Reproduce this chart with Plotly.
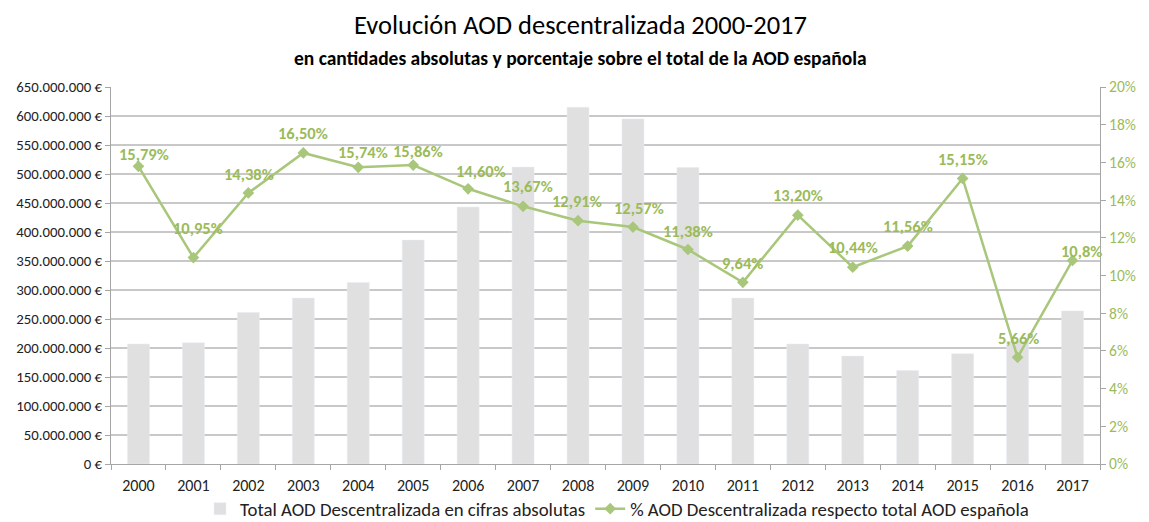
import plotly.graph_objects as go

years = [str(y) for y in range(2000, 2018)]
totals = [207e6, 209e6, 261e6, 286e6, 313e6, 386e6, 443e6, 512e6, 615e6,
          595e6, 511e6, 286e6, 207e6, 186e6, 161e6, 190e6, 212e6, 264e6]
pct = [15.79, 10.95, 14.38, 16.50, 15.74, 15.86, 14.60, 13.67, 12.91,
       12.57, 11.38, 9.64, 13.20, 10.44, 11.56, 15.15, 5.66, 10.8]
pct_labels = ["15,79%", "10,95%", "14,38%", "16,50%", "15,74%", "15,86%", "14,60%",
              "13,67%", "12,91%", "12,57%", "11,38%", "9,64%", "13,20%", "10,44%",
              "11,56%", "15,15%", "5,66%", "10,8%"]
left_ticks = list(range(0, 650_000_001, 50_000_000))
left_ticktext = [f"{v:,}".replace(",", ".") + " €" for v in left_ticks]
right_ticks = list(range(0, 21, 2))
right_ticktext = [f"{v}%" for v in right_ticks]

# label placement offsets (pixels, style only)
label_dx = [6, 5, 1, 0, 5, 5, 13, 5, -1, 6, 0, 0, 0, 0, 0, 0, 1, 9]
label_dy = [12, 30, 19, 20, 15, 14, 18, 20, 20, 19, 18, 19, 20, 20, 20, 19, 19, 9]

FONT = "Carlito, Calibri, 'Noto Sans', sans-serif"
GREEN_LINE = "#A9C77A"
GREEN_TEXT = "#9BBB59"

# page body has an 8px margin: work in screen coords, then offset
OFF = 8
W, H = 1149 - OFF, 522 - OFF
plot_l, plot_r, plot_t, plot_b = 111 - OFF, 1100 - OFF, 87 - OFF, 464 - OFF
plot_h = plot_b - plot_t
plot_w = plot_r - plot_l

fig = go.Figure()
fig.add_trace(go.Bar(
    x=years, y=totals, name="Total AOD Descentralizada en cifras absolutas",
    marker=dict(color="#E0E0E0"), yaxis="y"))
fig.add_trace(go.Scatter(
    x=years, y=pct, name="% AOD Descentralizada respecto total AOD española",
    mode="lines+markers",
    line=dict(color=GREEN_LINE, width=2.5),
    marker=dict(symbol="diamond", size=9, color=GREEN_LINE),
    yaxis="y2", cliponaxis=False))

# data labels anchored to each category (by index) on the percentage axis
for i, (v, t, dx, dy) in enumerate(zip(pct, pct_labels, label_dx, label_dy)):
    fig.add_annotation(x=i, y=v, xref="x", yref="y2", text=f"<b>{t}</b>",
                       showarrow=False, xanchor="center", yanchor="middle",
                       xshift=dx, yshift=dy,
                       font=dict(color=GREEN_TEXT, size=16.5, family=FONT))

fig.update_layout(
    width=W, height=H,
    margin=dict(l=plot_l, r=W - plot_r, t=plot_t, b=H - plot_b, autoexpand=False),
    paper_bgcolor="white", plot_bgcolor="white",
    font=dict(family=FONT, size=15, color="#222222"),
    bargap=0.6,
    showlegend=True,
    legend=dict(orientation="h", x=(617 - OFF - plot_l) / plot_w, xanchor="center",
                y=-(509 - OFF - plot_b) / plot_h, yanchor="middle",
                bgcolor="rgba(0,0,0,0)",
                font=dict(size=18.8, color="#222222")),
    xaxis=dict(type="category", range=[-0.5, 17.5], showline=True, linecolor="#A6A6A6",
               ticks="outside", tickson="boundaries", ticklen=5, tickcolor="#A6A6A6",
               ticklabelstandoff=7,
               tickfont=dict(size=16, color="#222222"), showgrid=False),
    yaxis=dict(range=[0, 650e6], tickvals=left_ticks, ticktext=left_ticktext,
               showline=True, linecolor="#A6A6A6", ticks="outside", ticklen=5,
               tickcolor="#A6A6A6", gridcolor="#C8C8C8", gridwidth=1.5,
               tickfont=dict(size=14.8, color="#222222"), zeroline=False),
    yaxis2=dict(range=[0, 20], tickvals=right_ticks, ticktext=right_ticktext,
                overlaying="y", side="right", showline=True, linecolor="#A6A6A6",
                ticks="outside", ticklen=5, tickcolor="#A6A6A6", showgrid=False,
                tickfont=dict(size=15.5, color=GREEN_TEXT), zeroline=False),
)
fig.add_annotation(text="Evolución AOD descentralizada 2000-2017", xref="paper", yref="paper",
                   x=(580 - OFF - plot_l) / plot_w, y=1 + (plot_t - (25 - OFF)) / plot_h,
                   showarrow=False, xanchor="center", yanchor="middle",
                   font=dict(size=26.5, color="#000000"))
fig.add_annotation(text="<b>en cantidades absolutas y porcentaje sobre el total de la AOD española</b>",
                   xref="paper", yref="paper",
                   x=(580 - OFF - plot_l) / plot_w, y=1 + (plot_t - (58 - OFF)) / plot_h,
                   showarrow=False, xanchor="center", yanchor="middle",
                   font=dict(size=19.5, color="#000000"))

fig.write_html("out.html")
